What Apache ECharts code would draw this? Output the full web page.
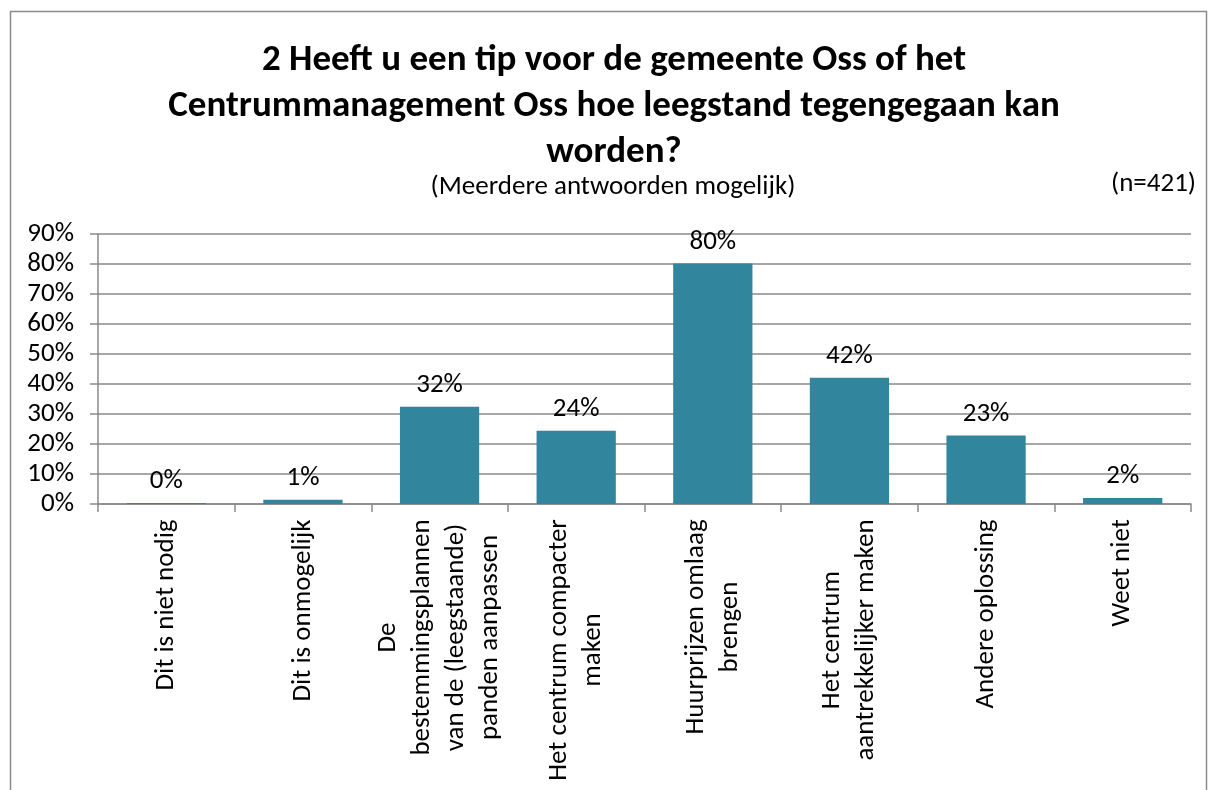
<!DOCTYPE html>
<html>
<head>
<meta charset="utf-8">
<script src="https://cdn.jsdelivr.net/npm/echarts@6/dist/echarts.min.js"></script>
<style>
  html, body { margin: 0; padding: 0; background: #fff; }
  #chart { width: 1209px; height: 790px; }
</style>
</head>
<body>
<div id="chart"></div>
<script>
// data
const categories = [
  'Dit is niet nodig',
  'Dit is onmogelijk',
  'De\nbestemmingsplannen\nvan de (leegstaande)\npanden aanpassen',
  'Het centrum compacter\nmaken',
  'Huurprijzen omlaag\nbrengen',
  'Het centrum\naantrekkelijker maken',
  'Andere oplossing',
  'Weet niet'
]
const values = [0.3, 1.4, 32.4, 24.4, 80.2, 42.1, 22.8, 2.0]
const yMax = 90
const yStep = 10

const titleText = '2 Heeft u een tip voor de gemeente Oss of het\nCentrummanagement Oss hoe leegstand tegengegaan kan\nworden?'
const subText = '(Meerdere antwoorden mogelijk)'
const nText = '(n=421)'

const FONT = 'Carlito, Lato, sans-serif'
const SIZE = 27
const BAR = '#31859C'
const GRID = '#8a8a8a'

// measure the longest line, so every line of a label can be centred in its block
const ctx = document.createElement('canvas').getContext('2d')
ctx.font = SIZE + 'px ' + FONT
let rich = {}
categories.forEach((c, i) => {
  let w = Math.max(...c.split('\n').map(l => ctx.measureText(l).width))
  rich['c' + i] = {
    width: Math.ceil(w) + 2,
    align: 'center',
    fontSize: SIZE,
    fontFamily: FONT,
    lineHeight: 34,
    color: '#000'
  }
})

let chart = echarts.init(document.getElementById('chart'))
let option = {
  animation: false,
  grid: { left: 98, right: 18, top: 234, bottom: 286, containLabel: false },
  graphic: [
    {
      type: 'rect',
      shape: { x: 10.5, y: 11.5, width: 1196, height: 800 },
      style: { fill: 'none', stroke: '#8a8a8a', lineWidth: 1.5 },
      silent: true
    },
    {
      type: 'text', x: 614, y: 107,
      style: {
        text: titleText, textAlign: 'center', textVerticalAlign: 'middle',
        fontSize: 37, fontWeight: 'bold', fontFamily: FONT, lineHeight: 46, fill: '#000'
      }
    },
    {
      type: 'text', x: 613, y: 187,
      style: { text: subText, textAlign: 'center', textVerticalAlign: 'middle', fontSize: SIZE, fontFamily: FONT, fill: '#000' }
    },
    {
      type: 'text', x: 1196, y: 184,
      style: { text: nText, textAlign: 'right', textVerticalAlign: 'middle', fontSize: SIZE, fontFamily: FONT, fill: '#000' }
    }
  ],
  xAxis: {
    type: 'category',
    data: categories,
    axisLine: { lineStyle: { color: GRID, width: 1.5 } },
    axisTick: { show: true, length: 8, lineStyle: { color: GRID, width: 1.5 } },
    axisLabel: {
      interval: 0,
      rotate: 90,
      margin: 14,
      formatter: (v, i) => v.split('\n').map(l => '{c' + i + '|' + l + '}').join('\n'),
      rich: rich
    }
  },
  yAxis: {
    type: 'value',
    min: 0,
    max: yMax,
    interval: yStep,
    axisLine: { show: true, lineStyle: { color: GRID, width: 1.5 } },
    axisTick: { show: true, length: 8, lineStyle: { color: GRID, width: 1.5 } },
    splitLine: { lineStyle: { color: GRID, width: 1.5 } },
    axisLabel: {
      formatter: '{value}%',
      margin: 24,
      fontSize: SIZE,
      fontFamily: FONT,
      color: '#000'
    }
  },
  series: [{
    type: 'bar',
    data: values,
    barCategoryGap: '42%',
    itemStyle: { color: BAR },
    label: {
      show: true,
      position: 'top',
      distance: 8,
      formatter: p => Math.round(p.value) + '%',
      fontSize: SIZE,
      fontFamily: FONT,
      color: '#000'
    }
  }]
}
chart.setOption(option)
</script>
</body>
</html>
